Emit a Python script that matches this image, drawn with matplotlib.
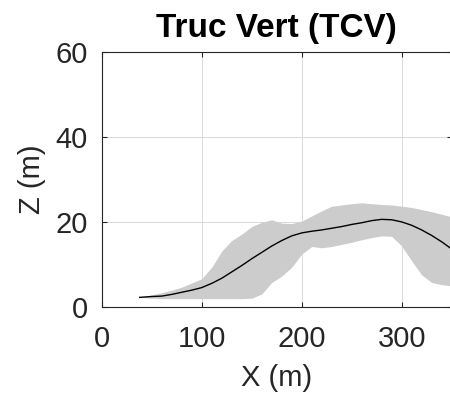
import numpy as np
import matplotlib.pyplot as plt

plt.rcParams['font.family'] = ['Liberation Sans', 'DejaVu Sans']

# Profil moyen et enveloppe min/max
x = np.array([38, 50, 60, 70, 80, 90, 100, 110, 120, 130, 140, 150, 160, 170,
              180, 190, 200, 210, 220, 230, 240, 250, 260, 270, 280, 290, 300,
              310, 320, 330, 340, 350])
z_moy = np.array([2.2, 2.4, 2.5, 2.9, 3.4, 3.9, 4.5, 5.5, 6.7, 8.2, 9.7, 11.3,
                  12.8, 14.3, 15.6, 16.7, 17.4, 17.8, 18.1, 18.5, 18.9, 19.4,
                  19.8, 20.3, 20.6, 20.5, 20.0, 19.2, 18.1, 16.8, 15.3, 13.6])
z_max = np.array([2.2, 2.8, 3.3, 3.9, 4.6, 5.6, 6.6, 9.3, 13.1, 15.6, 17.1, 18.9,
                  19.9, 20.5, 19.7, 19.6, 20.2, 21.4, 22.6, 23.7, 24.0, 24.3,
                  24.5, 24.3, 24.1, 24.0, 23.7, 23.4, 22.9, 22.4, 21.8, 21.2])
z_min = np.array([2.2, 2.0, 1.9, 1.9, 1.9, 1.9, 1.9, 1.9, 1.9, 1.9, 1.9, 2.0,
                  3.0, 5.7, 7.2, 9.3, 12.4, 14.2, 13.9, 14.2, 14.7, 15.2,
                  15.8, 16.3, 16.7, 16.6, 14.3, 10.8, 7.5, 5.7, 5.2, 4.9])

fig = plt.figure(figsize=(4.5, 4.08), dpi=100)
ax = fig.add_axes([101.7 / 450, 101.3 / 408, 350 / 450, 254.4 / 408])

ax.fill_between(x, z_min, z_max, color='0.8', linewidth=0)
ax.plot(x, z_moy, color='k', linewidth=1.0)

ax.set_xlim(0, 350)
ax.set_ylim(0, 60)
ax.set_xticks([0, 100, 200, 300])
ax.set_yticks([0, 20, 40, 60])
ax.grid(True, color='0.85', linewidth=0.7)
ax.set_axisbelow(True)

gris = '#262626'
for s in ax.spines.values():
    s.set_color(gris)
    s.set_linewidth(0.8)
ax.tick_params(direction='in', length=3.6, width=0.8, colors=gris,
               labelsize=21, top=True, right=True, pad=10)
ax.tick_params(axis='x', pad=13)

ax.set_xlabel('X (m)', fontsize=21, color=gris, labelpad=8)
ax.set_ylabel('Z (m)', fontsize=21, color=gris, labelpad=7)
ax.set_title('Truc Vert (TCV)', fontsize=24, fontweight='bold', pad=11)

fig.savefig('out.png', dpi=100)
